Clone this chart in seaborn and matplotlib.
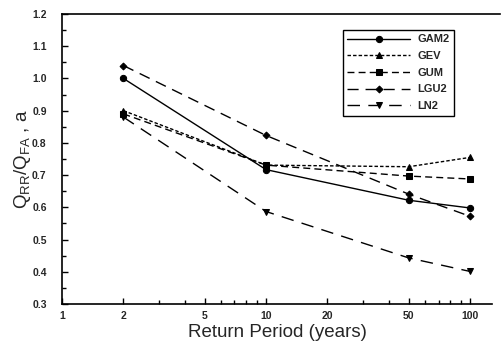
import matplotlib
matplotlib.use("Agg")
import matplotlib.pyplot as plt
import matplotlib.ticker as mticker
import seaborn as sns
import pandas as pd

# ---- data ----
return_period = [2, 10, 50, 100]
gam2 = [1.00, 0.717, 0.622, 0.598]
gev = [0.90, 0.731, 0.726, 0.755]
gum = [0.89, 0.731, 0.697, 0.688]
lgu2 = [1.04, 0.823, 0.641, 0.572]
ln2 = [0.88, 0.587, 0.443, 0.401]
series_names = ["GAM2", "GEV", "GUM", "LGU2", "LN2"]
x_tick_values = [1, 2, 5, 10, 20, 50, 100]
x_tick_labels = ["1", "2", "5", "10", "20", "50", "100"]

sns.set_style("ticks")
plt.rcParams["font.family"] = ["Liberation Sans", "DejaVu Sans"]
plt.rcParams["mathtext.fontset"] = "custom"
plt.rcParams["mathtext.rm"] = "Liberation Sans"
plt.rcParams["mathtext.it"] = "Liberation Sans"
plt.rcParams["mathtext.bf"] = "Liberation Sans:bold"

fig = plt.figure(figsize=(5.02, 3.45), dpi=100)
ax = fig.add_axes([62 / 502, 1 - 304 / 345, (492 - 62) / 502, (304 - 14) / 345])

values = [gam2, gev, gum, lgu2, ln2]
markers = ["o", "^", "s", "D", "v"]
msizes = [4.5, 5, 5, 3.5, 5]
dashes = [None, (2.5, 1.5), (5, 3), (8, 5), (9, 6)]

for name, vals, mk, ms, ds in zip(series_names, values, markers, msizes, dashes):
    df = pd.DataFrame({"x": return_period, "y": vals})
    sns.lineplot(data=df, x="x", y="y", ax=ax, color="black", lw=1.0,
                 marker=mk, markersize=ms, markeredgecolor="black",
                 label=name)
    l = ax.get_lines()[-1]
    if ds is not None:
        l.set_dashes(ds)

ax.set_xscale("log")
ax.set_xlim(1, 128)
ax.set_ylim(0.3, 1.2)
ax.xaxis.set_major_locator(mticker.FixedLocator(x_tick_values))
ax.xaxis.set_major_formatter(mticker.FixedFormatter(x_tick_labels))
ax.xaxis.set_minor_locator(mticker.LogLocator(base=10, subs=range(2, 10)))
ax.xaxis.set_minor_formatter(mticker.NullFormatter())
ax.yaxis.set_major_locator(mticker.MultipleLocator(0.1))
ax.yaxis.set_minor_locator(mticker.MultipleLocator(0.05))
ax.yaxis.set_major_formatter(mticker.FormatStrFormatter("%.1f"))

ax.tick_params(axis="both", which="both", direction="in", color="black", width=1)
ax.tick_params(axis="both", which="major", length=4, labelsize=7.5)
ax.tick_params(axis="both", which="minor", length=3)
ax.tick_params(axis="y", which="both", pad=11)
ax.tick_params(axis="x", which="both", pad=5)
for lab in ax.get_xticklabels() + ax.get_yticklabels():
    lab.set_fontweight("bold")

for s in ["left", "bottom", "top"]:
    ax.spines[s].set_visible(True)
    ax.spines[s].set_color("black")
    ax.spines[s].set_linewidth(1.2)
ax.spines["right"].set_visible(False)
ax.spines["top"].set_bounds(1, 140)

ax.set_xlabel("Return Period (years)", fontsize=13.5, labelpad=2)
ax.set_ylabel(r"$\mathrm{Q_{RR}/Q_{FA}}$ , a", fontsize=13.5, labelpad=-1)

leg = ax.legend(loc="upper left", bbox_to_anchor=(343 / 502, 1 - 30 / 345),
                bbox_transform=fig.transFigure, borderaxespad=0,
                frameon=True, fancybox=False, framealpha=1, edgecolor="black",
                handlelength=5.6, handletextpad=0.7, labelspacing=0.6,
                prop={"weight": "bold", "size": 8}, numpoints=1)
leg.get_frame().set_linewidth(1.0)

fig.savefig("out.png", dpi=100)
